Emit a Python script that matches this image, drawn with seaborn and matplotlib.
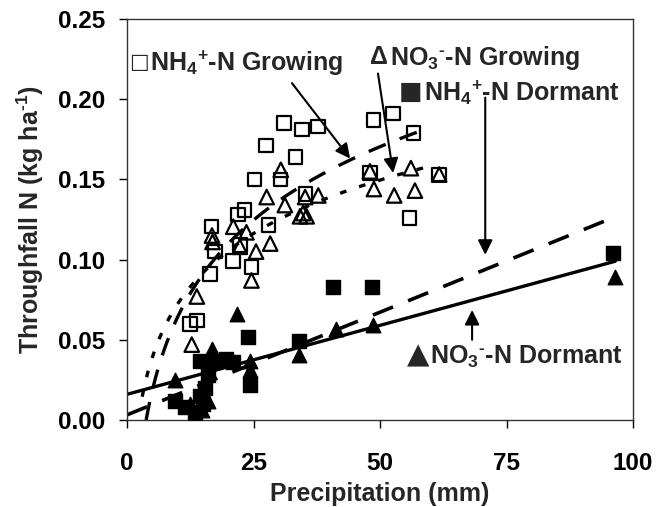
import numpy as np
import pandas as pd
import matplotlib
matplotlib.use("Agg")
import matplotlib.pyplot as plt
import seaborn as sns

# ---- observations: precipitation (mm) vs throughfall N (kg/ha) ----
nh4_grow_x = [12.5, 13.8, 16.4, 16.7, 17.4, 21.0, 21.9, 22.3, 23.2, 24.6, 25.2, 27.5, 28.0,
              30.3, 31.0, 33.3, 34.6, 35.3, 37.8, 48.0, 48.7, 52.6, 55.8, 56.6, 61.7]
nh4_grow_y = [0.060, 0.062, 0.091, 0.1205, 0.105, 0.099, 0.128, 0.109, 0.131, 0.0955, 0.150,
              0.171, 0.1215, 0.150, 0.185, 0.164, 0.181, 0.141, 0.183, 0.154, 0.187, 0.191,
              0.126, 0.179, 0.153]

no3_grow_x = [12.8, 13.8, 16.8, 16.9, 21.0, 22.3, 23.6, 24.6, 25.5, 27.6, 28.3, 30.4, 31.2,
              34.2, 34.8, 35.5, 35.2, 37.8, 48.0, 48.8, 52.8, 56.1, 56.9, 61.7]
no3_grow_y = [0.047, 0.077, 0.115, 0.111, 0.1205, 0.108, 0.117, 0.087, 0.105, 0.139, 0.110,
              0.156, 0.134, 0.127, 0.129, 0.127, 0.139, 0.140, 0.155, 0.144, 0.140, 0.157,
              0.143, 0.153]

nh4_dorm_x = [9.5, 11.5, 13.5, 14.5, 15.0, 15.5, 16.0, 14.4, 17.0, 19.5, 21.0, 24.0, 24.4,
              33.9, 40.8, 48.4, 96.1]
nh4_dorm_y = [0.012, 0.008, 0.005, 0.015, 0.010, 0.020, 0.028, 0.037, 0.037, 0.038, 0.036,
              0.052, 0.022, 0.049, 0.083, 0.083, 0.104]

no3_dorm_x = [9.5, 12.5, 13.5, 14.8, 16.0, 16.7, 17.2, 21.7, 24.3, 24.3, 33.9, 41.4, 48.7, 96.4]
no3_dorm_y = [0.025, 0.010, 0.004, 0.006, 0.012, 0.044, 0.040, 0.066, 0.037, 0.031, 0.0405,
              0.057, 0.059, 0.089]

# ---- fitted trend lines ----
# growing season: y = a + b*ln(x); dormant season: y = a + b*x
nh4_grow_fit = (-0.0878, 0.066)
no3_grow_fit = (-0.0382, 0.048)
nh4_dorm_fit = (0.0032, 0.00128)
no3_dorm_fit = (0.016, 0.00086)

x_ticks = [0, 25, 50, 75, 100]
y_ticks = [0.00, 0.05, 0.10, 0.15, 0.20, 0.25]

sns.set_style("ticks")
plt.rcParams["font.family"] = ["Liberation Sans", "DejaVu Sans"]
plt.rcParams["font.weight"] = "bold"
plt.rcParams["mathtext.fontset"] = "custom"
plt.rcParams["mathtext.rm"] = "Liberation Sans:bold"
plt.rcParams["mathtext.it"] = "Liberation Sans:bold"
plt.rcParams["mathtext.bf"] = "Liberation Sans:bold"
plt.rcParams["mathtext.default"] = "regular"

fig = plt.figure(figsize=(6.58, 5.07), dpi=100)
ax = fig.add_axes([127 / 658, 1 - 420 / 507, (633 - 127) / 658, (420 - 19) / 507])


def log_curve(fit, x0, x1):
    xs = np.linspace(x0, x1, 300)
    return pd.DataFrame({"x": xs, "y": fit[0] + fit[1] * np.log(xs)})


def lin_curve(fit, x0, x1):
    xs = np.linspace(x0, x1, 50)
    return pd.DataFrame({"x": xs, "y": fit[0] + fit[1] * xs})


# trend lines
c = log_curve(nh4_grow_fit, np.exp(-nh4_grow_fit[0] / nh4_grow_fit[1]), 59.0)
ax.plot(c["x"], c["y"], color="black", lw=2.4, dashes=(5.5, 4.5))
c = log_curve(no3_grow_fit, 3.0, 59.0)
ax.plot(c["x"], c["y"], color="black", lw=2.4, dashes=(2.0, 4.0))
c = lin_curve(nh4_dorm_fit, 0, 96.5)
ax.plot(c["x"], c["y"], color="black", lw=2.6, dashes=(6.0, 4.5))
c = lin_curve(no3_dorm_fit, 0, 96.5)
sns.lineplot(data=c, x="x", y="y", ax=ax, color="black", lw=2.4)

# data points
ms = 95
sns.scatterplot(x=nh4_grow_x, y=nh4_grow_y, ax=ax, marker="s", s=ms,
                facecolor="none", edgecolor="black", linewidth=1.6, zorder=3)
sns.scatterplot(x=no3_grow_x, y=no3_grow_y, ax=ax, marker="^", s=ms * 1.15,
                facecolor="none", edgecolor="black", linewidth=1.6, zorder=3)
sns.scatterplot(x=nh4_dorm_x, y=nh4_dorm_y, ax=ax, marker="s", s=ms,
                facecolor="black", edgecolor="black", linewidth=1.0, zorder=3)
sns.scatterplot(x=no3_dorm_x, y=no3_dorm_y, ax=ax, marker="^", s=ms * 1.15,
                facecolor="black", edgecolor="black", linewidth=1.0, zorder=3)

# annotations: arrows
arrow_kw = dict(arrowstyle="-|>", color="black", lw=1.5, mutation_scale=22, shrinkA=0, shrinkB=0)
ax.annotate("", xy=(44.1, 0.163), xytext=(32.6, 0.210), arrowprops=arrow_kw)
ax.annotate("", xy=(52.6, 0.154), xytext=(49.6, 0.216), arrowprops=arrow_kw)
ax.annotate("", xy=(70.8, 0.103), xytext=(70.8, 0.201), arrowprops=arrow_kw)
ax.annotate("", xy=(68.2, 0.0686), xytext=(68.2, 0.050), arrowprops=arrow_kw)

# annotations: series labels (symbol + name)
fs = 18
sym_kw = dict(va="center", ha="right", family=["DejaVu Sans"], fontweight="normal")
txt_kw = dict(fontsize=fs, fontweight="bold", va="center", ha="left")

ax.text(4.3, 0.2232, "□", fontsize=15, **sym_kw)
ax.text(4.6, 0.2223, r"NH$_{4}{}^{+}$-N Growing", **txt_kw)

ax.text(51.6, 0.2262, "Δ", fontsize=fs, fontweight="bold", va="center", ha="right")
ax.text(52.0, 0.2254, r"NO$_{3}{}^{\text{-}}$-N Growing", **txt_kw)

ax.text(58.3, 0.2045, "■", fontsize=18, **sym_kw)
ax.text(58.6, 0.2042, r"NH$_{4}{}^{+}$-N Dormant", **txt_kw)

ax.text(59.7, 0.0405, "▲", fontsize=21, **sym_kw)
ax.text(59.9, 0.0393, r"NO$_{3}{}^{\text{-}}$-N Dormant", **txt_kw)

ax.set_xlim(0, 100)
ax.set_ylim(0, 0.25)
ax.set_xticks(x_ticks)
ax.set_yticks(y_ticks)
ax.set_xticklabels([str(v) for v in x_ticks])
ax.set_yticklabels([f"{v:.2f}" for v in y_ticks])
ax.tick_params(direction="out", length=6, width=1, labelsize=17.5, colors="black")
ax.tick_params(axis="x", pad=17)
ax.tick_params(axis="y", pad=10)
for lab in ax.get_xticklabels() + ax.get_yticklabels():
    lab.set_fontweight("bold")
for side in ["left", "right", "top", "bottom"]:
    ax.spines[side].set_visible(True)
    ax.spines[side].set_linewidth(1.0)
    ax.spines[side].set_color("#333333")

ax.set_xlabel("Precipitation (mm)", fontsize=18, fontweight="bold", labelpad=5)
ax.set_ylabel(r"Throughfall N (kg ha$^{\text{-}1}$)", fontsize=18, fontweight="bold", labelpad=8)

fig.savefig("out.png", dpi=100)
